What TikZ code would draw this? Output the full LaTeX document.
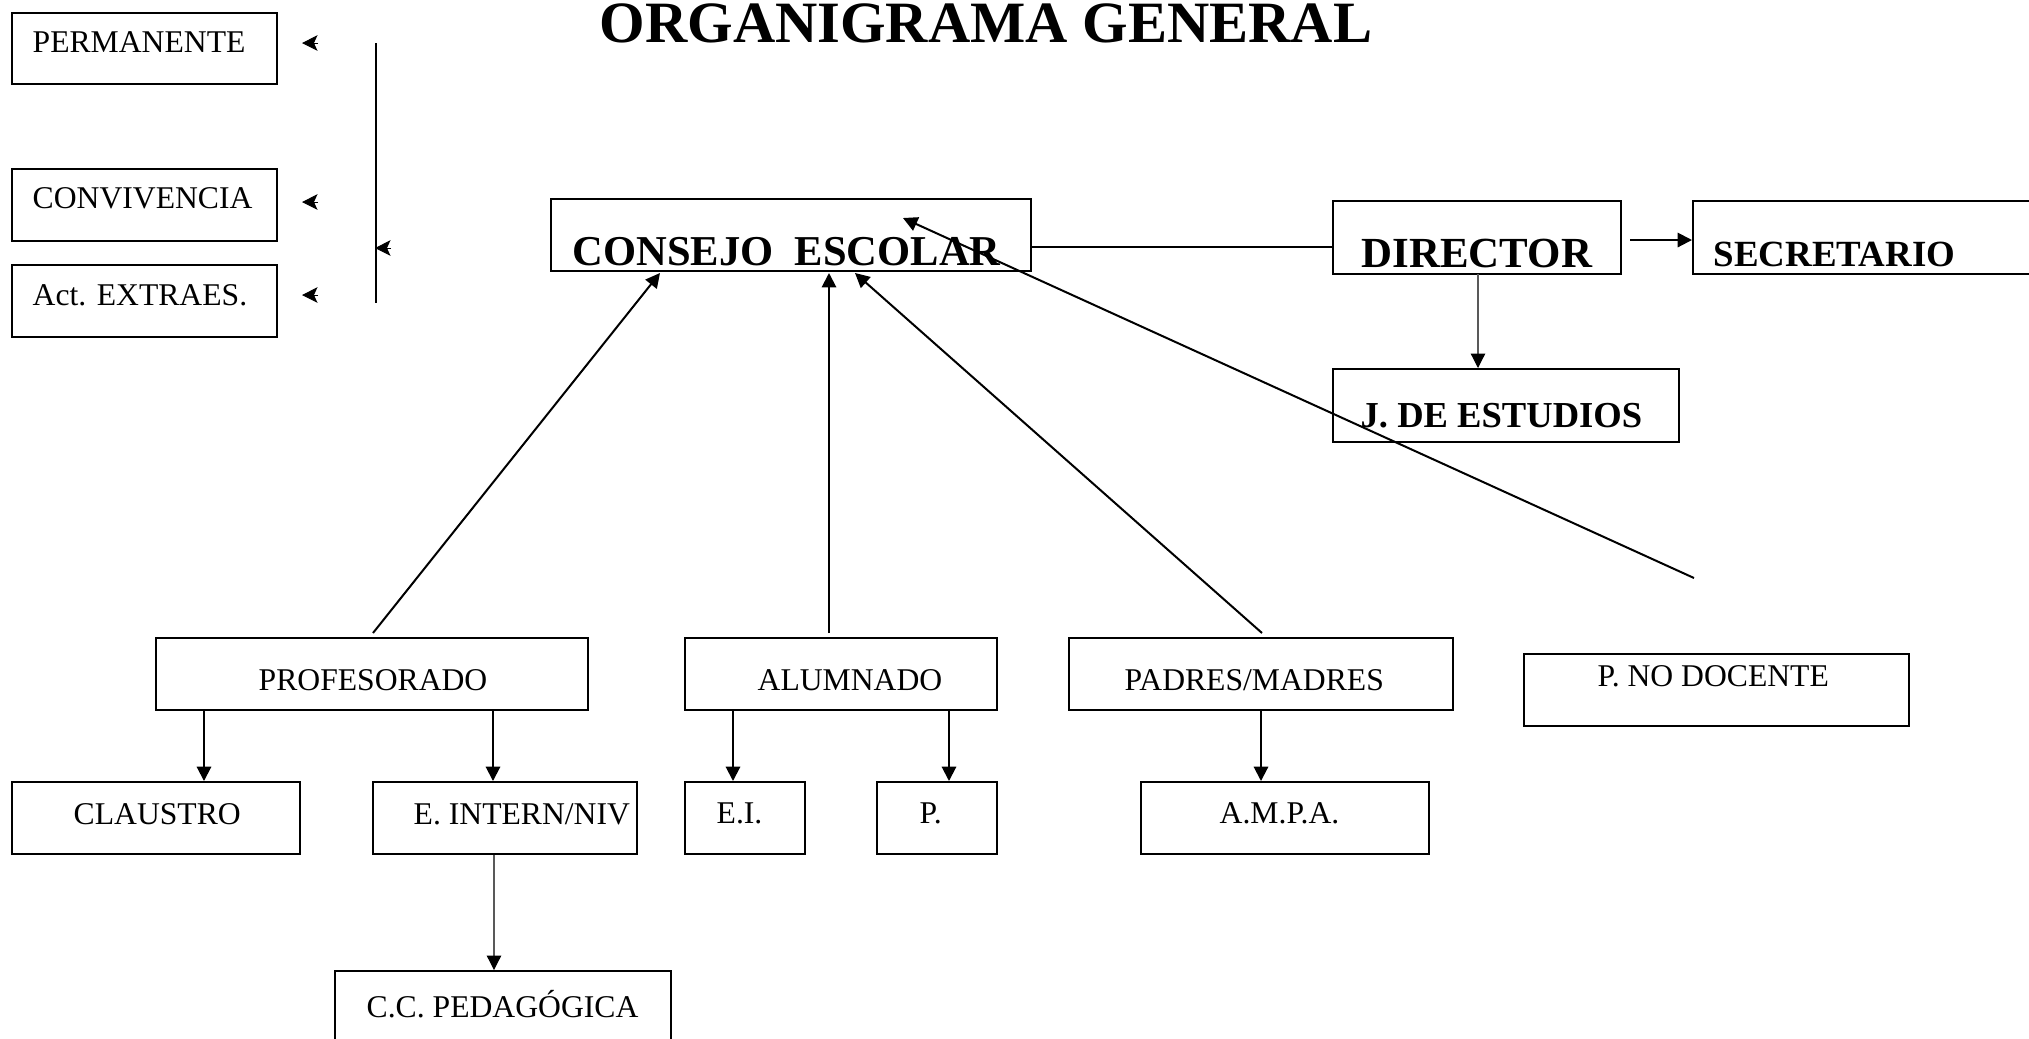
\documentclass[tikz,border=0pt]{standalone}
\usepackage{fontspec}
\setmainfont{Liberation Serif}
\usetikzlibrary{arrows.meta,fit}
\tikzset{
  x=0.01cm, y=-0.01cm,
  box/.style={draw, line width=0.02cm, inner sep=0pt},
  txt/.style={inner sep=0pt, anchor=base west, font=\fontsize{9}{10}\selectfont},
  btxt/.style={inner sep=0pt, anchor=base west, font=\bfseries\fontsize{#1}{#1}\selectfont},
  ln/.style={line width=0.02cm},
  arr/.style={line width=0.02cm, -{Triangle[length=4.1pt,width=4.1pt]}},
  thinarr/.style={line width=0.012cm, draw=black!65, -{Triangle[length=4.1pt,width=4.1pt,fill=black,color=black]}},
  headonly/.style={line width=0.01cm, -{Stealth[length=4.4pt,width=4.4pt,inset=1pt]}},
}
\begin{document}
\begin{tikzpicture}
\path[use as bounding box, clip] (0,0) rectangle (2029,1038);
\fill[white] (0,0) rectangle (2029,1038);

% title
\node[btxt=16.65] (title) at (599,42) {ORGANIGRAMA GENERAL};

% left boxes
\node[box, fit={(12,13) (277,84)}] (perm) {};
\node[txt] (permT) at (32,52) {PERMANENTE};
\node[box, fit={(12,169) (277,241)}] (conv) {};
\node[txt] (convT) at (32,208) {CONVIVENCIA};
\node[box, fit={(12,265) (277,337)}] (act) {};
\node[txt] (actT) at (32,305) {Act. EXTRAES.};

% vertical bracket and arrow heads
\coordinate (vtop) at (376,43);
\coordinate (vbot) at (376,303);
\draw[ln] (vtop) -- (vbot);
\coordinate (h1s) at (318,43);  \coordinate (h1) at (302,43);
\coordinate (h2s) at (318,202); \coordinate (h2) at (302,202);
\coordinate (h3s) at (318,295); \coordinate (h3) at (302,295);
\coordinate (h4s) at (391,248); \coordinate (h4) at (375,248);
\draw[headonly] (h1s) -- (h1);
\draw[headonly] (h2s) -- (h2);
\draw[headonly] (h3s) -- (h3);
\draw[headonly] (h4s) -- (h4);

% top row
\node[box, fit={(551,199) (1031,271)}] (cons) {};
\node[btxt=12.1] (consT) at (572,265) {CONSEJO\ \ ESCOLAR};
\node[box, fit={(1333,201) (1621,274)}] (dir) {};
\node[btxt=12.2] (dirT) at (1361,267) {DIRECTOR};
\node[box, fit={(1693,201) (2045,274)}] (sec) {};
\node[btxt=10.5] (secT) at (1713,266) {SECRETARIO};
\node[box, fit={(1333,369) (1679,442)}] (jde) {};
\node[btxt=10.4] (jdeT) at (1360,427) {J. DE ESTUDIOS};

\coordinate (cy) at (0,247);
\draw[ln] (cons.east |- cy) -- (dir.west |- cy);
\coordinate (ds) at (1630,240);
\draw[arr] (ds) -- (sec.west |- ds);
\coordinate (dj) at (1478,274);
\draw[thinarr] (dj) -- (dj |- jde.north);

% middle row
\node[box, fit={(156,638) (588,710)}] (prof) {};
\node[txt] (profT) at (258,690) {PROFESORADO};
\node[box, fit={(685,638) (997,710)}] (alum) {};
\node[txt] (alumT) at (757,690) {ALUMNADO};
\node[box, fit={(1069,638) (1453,710)}] (padr) {};
\node[txt] (padrT) at (1124,690) {PADRES/MADRES};
\node[box, fit={(1524,654) (1909,726)}] (pnd) {};
\node[txt] (pndT) at (1597,686) {P. NO DOCENTE};

% lines up to consejo
\coordinate (pu) at (373,633);  \coordinate (pc) at (660,273);
\coordinate (au) at (829,633);  \coordinate (ac) at (829,273);
\coordinate (mu) at (1262,633); \coordinate (mc) at (855,273);
\coordinate (nu) at (1694,578); \coordinate (nc) at (903,218);
\draw[arr] (pu) -- (pc);
\draw[arr] (au) -- (ac);
\draw[arr] (mu) -- (mc);
\draw[arr] (nu) -- (nc);

% bottom row
\node[box, fit={(12,782) (300,854)}] (claus) {};
\node[txt] (clausT) at (73,824) {CLAUSTRO};
\node[box, fit={(373,782) (637,854)}] (eint) {};
\node[txt] (eintT) at (413,824) {E. INTERN/NIV};
\node[box, fit={(685,782) (805,854)}] (ei) {};
\node[txt] (eiT) at (716,823) {E.I.};
\node[box, fit={(877,782) (997,854)}] (p) {};
\node[txt] (pT) at (919,823) {P.};
\node[box, fit={(1141,782) (1429,854)}] (ampa) {};
\node[txt] (ampaT) at (1219,823) {A.M.P.A.};
\node[box, fit={(335,971) (671,1046)}] (ccp) {};
\node[txt] (ccpT) at (366,1017) {C.C. PEDAGÓGICA};

\coordinate (x1) at (204,0);
\coordinate (x2) at (493,0);
\coordinate (x3) at (733,0);
\coordinate (x4) at (949,0);
\coordinate (x5) at (1261,0);
\coordinate (x6) at (494,0);
\draw[arr] (prof.south -| x1) -- (claus.north -| x1);
\draw[arr] (prof.south -| x2) -- (eint.north -| x2);
\draw[arr] (alum.south -| x3) -- (ei.north -| x3);
\draw[arr] (alum.south -| x4) -- (p.north -| x4);
\draw[arr] (padr.south -| x5) -- (ampa.north -| x5);
\draw[thinarr] (eint.south -| x6) -- (ccp.north -| x6);
\end{tikzpicture}
\end{document}
